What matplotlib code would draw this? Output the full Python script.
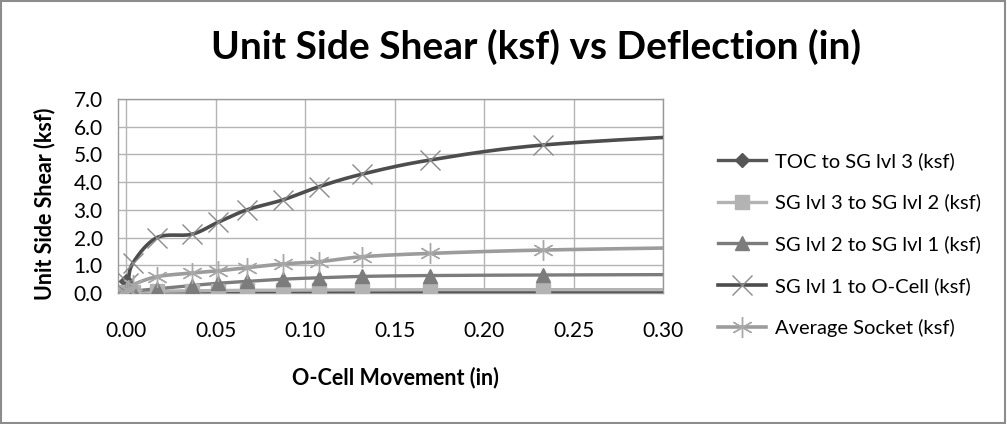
import numpy as np
import matplotlib
matplotlib.use("Agg")
import matplotlib.pyplot as plt
from matplotlib.lines import Line2D

# ---- data ----
movement = [0.0, 0.001, 0.004, 0.0173, 0.0368, 0.0513, 0.0675, 0.0876, 0.108, 0.132, 0.170, 0.233, 0.34]
toc_sg3 = [0.45, 0.02, 0.02, 0.03, 0.03, 0.04, 0.04, 0.04, 0.04, 0.04, 0.04, 0.04, 0.04]
sg3_sg2 = [0.0, 0.02, 0.04, 0.06, 0.08, 0.09, 0.10, 0.10, 0.11, 0.11, 0.12, 0.12, 0.12]
sg2_sg1 = [0.0, 0.03, 0.07, 0.15, 0.27, 0.35, 0.42, 0.50, 0.55, 0.60, 0.63, 0.65, 0.67]
sg1_ocell = [0.0, 0.36, 1.10, 2.00, 2.12, 2.55, 3.00, 3.36, 3.84, 4.29, 4.80, 5.34, 5.75]
avg_socket = [0.0, 0.12, 0.30, 0.59, 0.72, 0.80, 0.91, 1.05, 1.13, 1.31, 1.43, 1.55, 1.66]
series_names = ["TOC to SG lvl 3 (ksf)", "SG lvl 3 to SG lvl 2 (ksf)",
                "SG lvl 2 to SG lvl 1 (ksf)", "SG lvl 1 to O-Cell (ksf)",
                "Average Socket (ksf)"]
x_ticks = [0.00, 0.05, 0.10, 0.15, 0.20, 0.25, 0.30]
y_ticks = [0.0, 1.0, 2.0, 3.0, 4.0, 5.0, 6.0, 7.0]

FONT = ["Lato", "DejaVu Sans"]
plt.rcParams['font.family'] = FONT

fig = plt.figure(figsize=(10.07, 4.24), dpi=100)
ax = fig.add_axes([118/1007, 1-293/424, (663-118)/1007, (293-99)/424])
XMIN, XMAX = -0.0045, 0.30
ax.set_xlim(XMIN, XMAX)
ax.set_ylim(0, 7)


def smooth(x, y, n=20):
    # Catmull-Rom style smoothing of the drawn line (rendering only)
    x = np.asarray(x, float); y = np.asarray(y, float)
    sx = (XMAX - XMIN); sy = 7.0
    px = x / sx; py = y / sy
    P = np.column_stack([px, py])
    P = np.vstack([P[0], P, P[-1]])
    out = []
    for i in range(1, len(P) - 2):
        p0, p1, p2, p3 = P[i-1], P[i], P[i+1], P[i+2]
        t = np.linspace(0, 1, n)[:, None]
        c = 0.5 * ((2*p1) + (-p0 + p2)*t + (2*p0 - 5*p1 + 4*p2 - p3)*t**2 + (-p0 + 3*p1 - 3*p2 + p3)*t**3)
        out.append(c)
    out = np.vstack(out)
    return out[:, 0]*sx, out[:, 1]*sy


styles = [
    dict(color="#565656", marker="D", ms=7, mfc="#565656", mec="#565656", mew=1, lw=2.4),
    dict(color="#b3b3b3", marker="s", ms=10, mfc="#b3b3b3", mec="#b3b3b3", mew=1, lw=2.4),
    dict(color="#7c7c7c", marker="^", ms=10, mfc="#7c7c7c", mec="#7c7c7c", mew=1, lw=2.4),
    dict(color="#4d4d4d", marker="x", ms=14, mfc="none", mec="#8a8a8a", mew=1.0, lw=2.6),
    dict(color="#9c9c9c", marker=(6, 2, 0), ms=15, mfc="none", mec="#a8a8a8", mew=1.0, lw=2.6),
]
data = [toc_sg3, sg3_sg2, sg2_sg1, sg1_ocell, avg_socket]

handles = []
for name, ys, st in zip(series_names, data, styles):
    sx_, sy_ = smooth(movement, ys)
    ax.plot(sx_, sy_, color=st["color"], lw=st["lw"], solid_capstyle="butt", zorder=3, clip_on=True)
    ax.plot(movement, ys, ls="none", marker=st["marker"], ms=st["ms"], mfc=st["mfc"],
            mec=st["mec"], mew=st["mew"], zorder=4, clip_on=True)
    handles.append(Line2D([0], [0], color=st["color"], lw=st["lw"], marker=st["marker"],
                          ms=st["ms"], mfc=st["mfc"], mec=st["mec"], mew=st["mew"]))

ax.set_xticks(x_ticks)
ax.set_xticklabels([f"{v:.2f}" for v in x_ticks])
ax.set_yticks(y_ticks)
ax.set_yticklabels([f"{v:.1f}" for v in y_ticks])
ax.grid(True, color="#b4b4b4", lw=1)
ax.set_axisbelow(True)
for s in ax.spines.values():
    s.set_color("#9a9a9a"); s.set_linewidth(1)
ax.tick_params(length=0, labelsize=15, colors="#000000")
ax.tick_params(axis='y', pad=11)
ax.tick_params(axis='x', pad=20)

fig.text(45/1007, 1-204/424, "Unit Side Shear (ksf)", fontsize=15.5, fontweight="bold",
         ha="center", va="center", rotation=90)
fig.text(395/1007, 1-378/424, "O-Cell Movement (in)", fontsize=15.5, fontweight="bold",
         ha="center", va="center")
fig.text(536/1007, 1-47/424, "Unit Side Shear (ksf) vs Deflection (in)", fontsize=28,
         fontweight="bold", ha="center", va="center")

leg = fig.legend(handles, series_names, loc="upper left", bbox_to_anchor=(718/1007, 1-152/424),
                 frameon=False, fontsize=14.5, handlelength=2.4, handletextpad=0.45,
                 labelspacing=1.18, borderaxespad=0, borderpad=0)

# outer chart border
fig.add_artist(plt.Rectangle((0.001, 0.002), 0.997, 0.995, transform=fig.transFigure,
                             fill=False, ec="#8c8c8c", lw=1.5))

fig.savefig("out.png", dpi=100)
